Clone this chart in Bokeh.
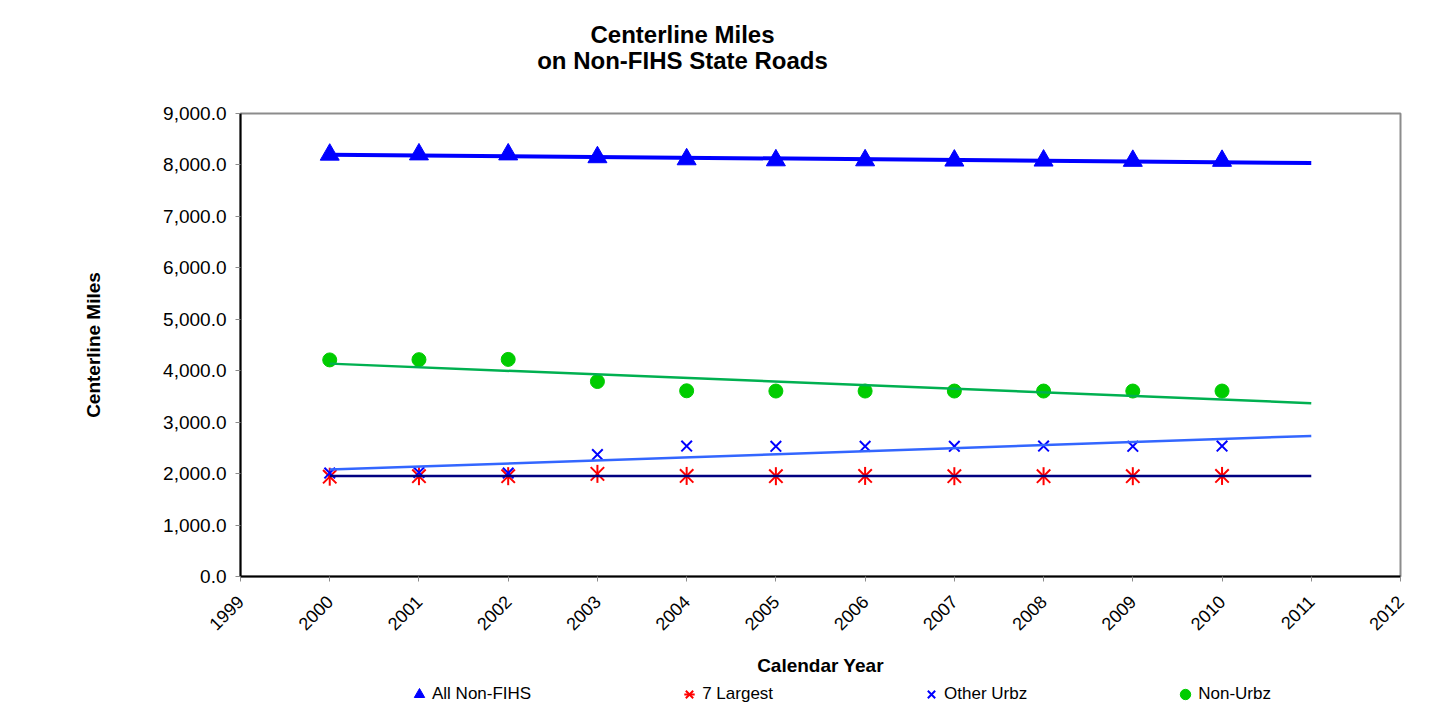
import numpy as np
from math import pi
from bokeh.plotting import figure
from bokeh.layouts import column
from bokeh.models import (Range1d, FixedTicker, NumeralTickFormatter, Legend,
                          LegendItem, Label)
from bokeh.embed import file_html
from bokeh.resources import INLINE

# ---- data ----
years = [2000, 2001, 2002, 2003, 2004, 2005, 2006, 2007, 2008, 2009, 2010]
all_non_fihs = [8200, 8205, 8205, 8150, 8110, 8090, 8090, 8085, 8085, 8080, 8080]
largest_7 = [1940, 1950, 1950, 1995, 1955, 1950, 1955, 1950, 1950, 1950, 1955]
other_urbz = [2010, 2020, 2010, 2370, 2535, 2530, 2530, 2530, 2535, 2530, 2535]
non_urbz = [4210, 4215, 4220, 3790, 3610, 3605, 3605, 3605, 3605, 3605, 3605]
trend_x = [2000, 2011]
x_ticks = list(range(1999, 2013))
y_ticks = list(range(0, 9001, 1000))
title_lines = ["Centerline Miles", "on Non-FIHS State Roads"]
series_names = ["All Non-FIHS", "7 Largest", "Other Urbz", "Non-Urbz"]

FONT = "Liberation Sans"
W = 1429
FL, FR = 240, 29          # frame borders shared by all three strips


def strip(height):
    f = figure(width=W, height=height, output_backend="svg", toolbar_location=None,
               x_range=Range1d(0, 1), y_range=Range1d(0, 1),
               min_border_left=FL, min_border_right=FR, min_border_top=0,
               min_border_bottom=0, x_axis_location=None, y_axis_location=None)
    f.outline_line_color = None
    f.xgrid.visible = False
    f.ygrid.visible = False
    f.background_fill_color = "white"
    f.border_fill_color = "white"
    return f


# ---- title strip ----
tf = strip(74)
for txt, yy in zip(title_lines, [40, 14]):
    tf.add_layout(Label(x=682 - FL, y=yy, x_units="screen", y_units="screen", text=txt,
                        text_align="center", text_baseline="middle", text_font=FONT,
                        text_font_size="24px", text_font_style="bold",
                        text_color="black"))

# ---- main chart ----
p = figure(width=W, height=606, output_backend="svg", toolbar_location=None,
           x_range=Range1d(1999, 2012), y_range=Range1d(0, 9000),
           min_border_left=FL, min_border_right=FR, min_border_top=39,
           min_border_bottom=104)
p.xgrid.visible = False
p.ygrid.visible = False
p.outline_line_color = "#8c8c8c"
p.outline_line_width = 2
p.background_fill_color = "white"
p.border_fill_color = "white"
xa = p.below[0]
ya = p.left[0]


def trend(vals):
    k, b = np.polyfit(years, vals, 1)
    return [k * x + b for x in trend_x]


# marker styles
ST_T = dict(marker="triangle", fill_color="#0000ff", line_color="#0000ff")
ST_A1 = dict(marker="x", line_color="#ff0000", line_width=2)
ST_A2 = dict(marker="dash", angle=pi / 2, line_color="#ff0000", line_width=2)
ST_X = dict(marker="x", line_color="#0000ff", line_width=2)
ST_C = dict(marker="circle", fill_color="#00cc00", line_color="#00cc00")

p.scatter(years, largest_7, size=19, **ST_A1)
p.scatter(years, largest_7, size=18, **ST_A2)
p.scatter(years, other_urbz, size=15, **ST_X)
p.scatter(years, non_urbz, size=14, **ST_C)
p.scatter(years, all_non_fihs, size=19, **ST_T)

# linear trend lines (least squares, forecast one year)
p.line(trend_x, trend(largest_7), line_color="#000080", line_width=2.5)
p.line(trend_x, trend(other_urbz), line_color="#3366ff", line_width=2.5)
p.line(trend_x, trend(non_urbz), line_color="#00b050", line_width=2.5)
p.line(trend_x, trend(all_non_fihs), line_color="#0000ff", line_width=4)

# axes
xa.ticker = FixedTicker(ticks=x_ticks)
xa.major_label_orientation = pi / 4
xa.major_label_text_font = FONT
xa.major_label_text_font_size = "18px"
xa.major_label_text_color = "black"
xa.major_label_standoff = 17
xa.axis_line_color = "black"
xa.axis_line_width = 2
xa.major_tick_line_color = "#8c8c8c"
xa.major_tick_in = 0
xa.major_tick_out = 5
xa.minor_tick_line_color = None
xa.axis_label = "Calendar Year"
xa.axis_label_text_font = FONT
xa.axis_label_text_font_size = "19px"
xa.axis_label_text_font_style = "bold"
xa.axis_label_text_color = "black"
xa.axis_label_standoff = 16

ya.ticker = FixedTicker(ticks=y_ticks)
ya.formatter = NumeralTickFormatter(format="0,0.0")
ya.major_label_text_font = FONT
ya.major_label_text_font_size = "19px"
ya.major_label_text_color = "black"
ya.major_label_standoff = 9
ya.axis_line_color = "black"
ya.axis_line_width = 2
ya.major_tick_line_color = "#8c8c8c"
ya.major_tick_in = 0
ya.major_tick_out = 5
ya.minor_tick_line_color = None
ya.axis_label = "Centerline Miles"
ya.axis_label_text_font = FONT
ya.axis_label_text_font_size = "19px"
ya.axis_label_text_font_style = "bold"
ya.axis_label_text_color = "black"
ya.axis_label_standoff = 56

# ---- legend strip (proxies use the series data, outside this strip's range) ----
lf = strip(27)
lt = lf.scatter(years, all_non_fihs, **ST_T)
la1 = lf.scatter(years, largest_7, **ST_A1)
la2 = lf.scatter(years, largest_7, **ST_A2)
lx = lf.scatter(years, other_urbz, **ST_X)
lc = lf.scatter(years, non_urbz, **ST_C)
legend = Legend(items=[
    LegendItem(label=series_names[0], renderers=[lt]),
    LegendItem(label=series_names[1], renderers=[la1, la2]),
    LegendItem(label=series_names[2], renderers=[lx]),
    LegendItem(label=series_names[3], renderers=[lc]),
], orientation="horizontal", location=(406 - FL, 0),
    glyph_width=26, glyph_height=26, label_standoff=0, spacing=145, padding=0,
    label_text_font=FONT, label_text_font_size="17px", label_text_color="black",
    background_fill_alpha=0.0, border_line_color=None, label_height=20, margin=0)
lf.add_layout(legend, "center")

open("out.html", "w").write(file_html(column(tf, p, lf, spacing=0), INLINE))
